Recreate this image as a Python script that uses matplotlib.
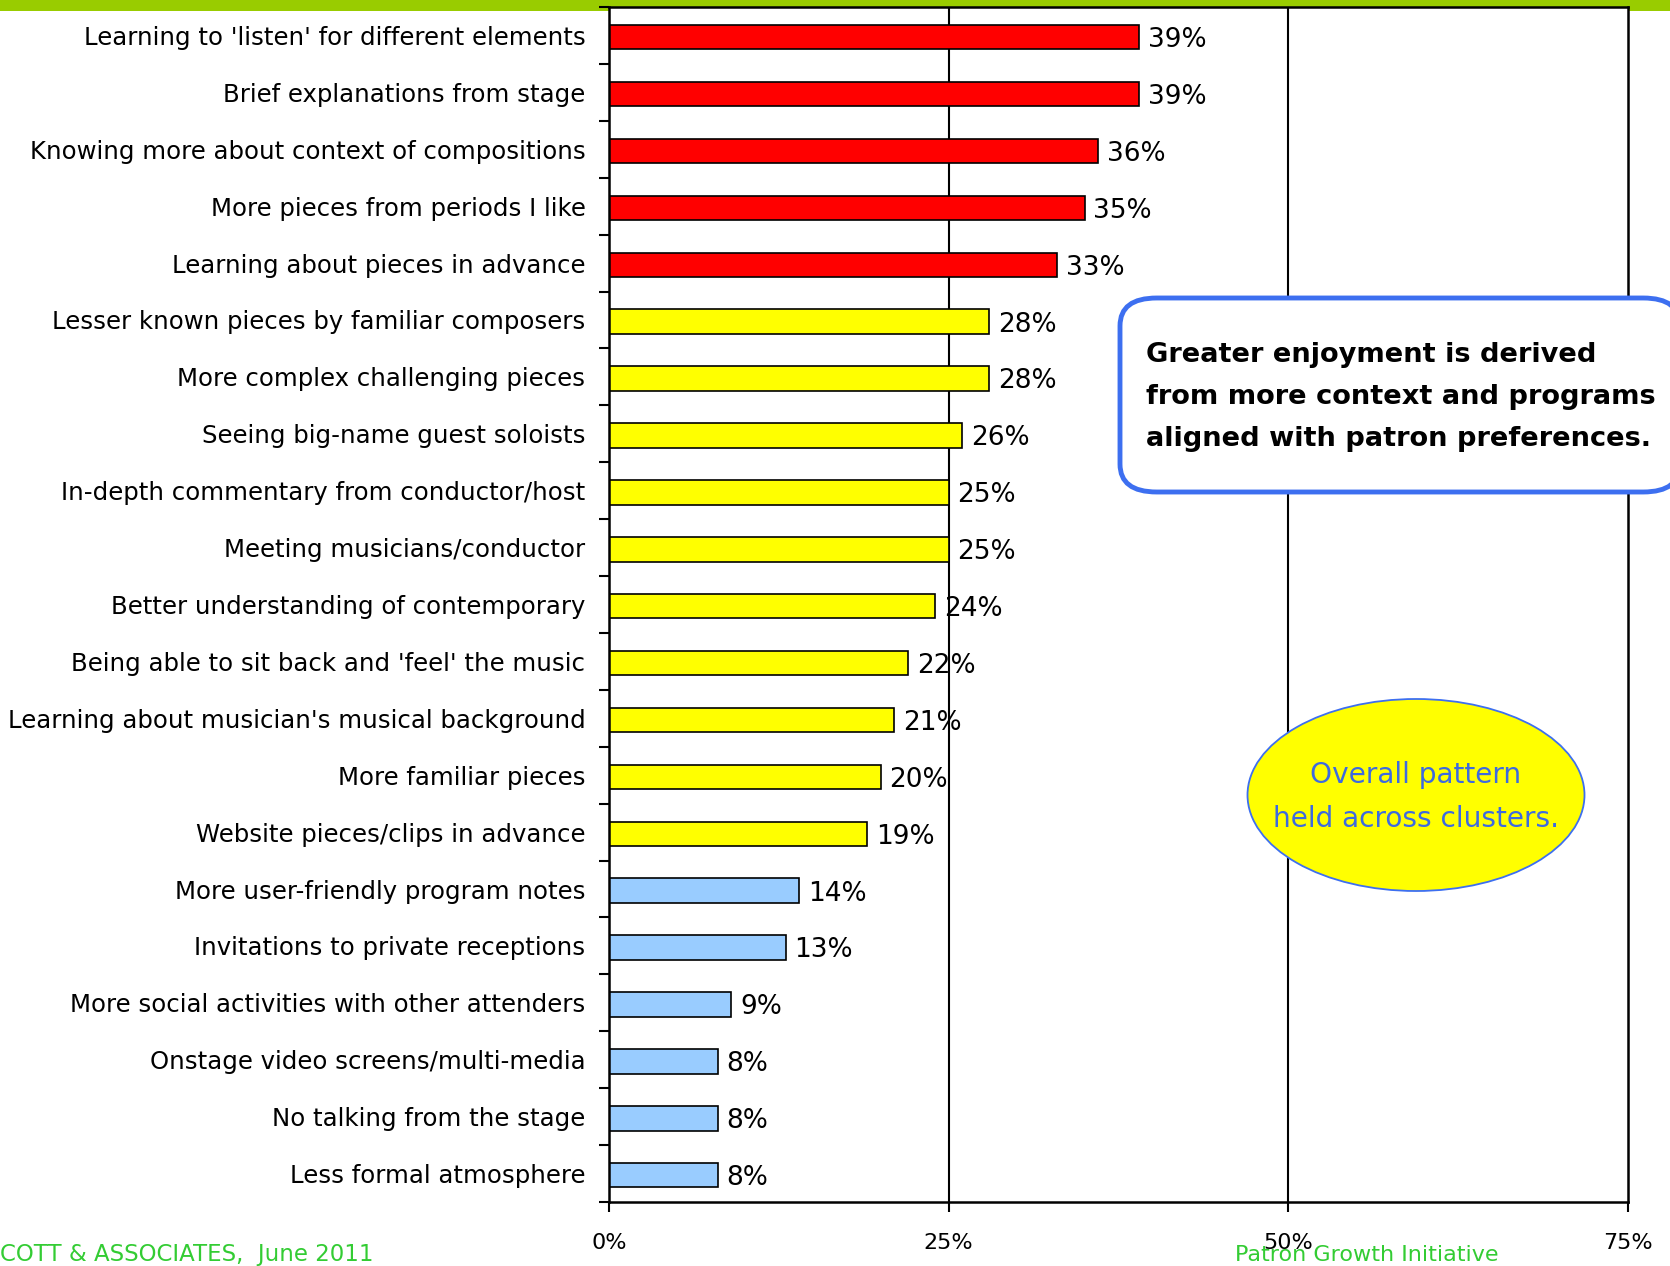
import numpy as np
import matplotlib.pyplot as plt
from matplotlib.patches import FancyBboxPatch, Ellipse, Rectangle
from matplotlib.ticker import FixedLocator, PercentFormatter

plt.rcParams['font.family'] = ['DejaVu Sans']

# Encuesta: que aumentaria el disfrute del concierto
categorias = [
    "Learning to 'listen' for different elements",
    "Brief explanations from stage",
    "Knowing more about context of compositions",
    "More pieces from periods I like",
    "Learning about pieces in advance",
    "Lesser known pieces by familiar composers",
    "More complex challenging pieces",
    "Seeing big-name guest soloists",
    "In-depth commentary from conductor/host",
    "Meeting musicians/conductor",
    "Better understanding of contemporary",
    "Being able to sit back and 'feel' the music",
    "Learning about musician's musical background",
    "More familiar pieces",
    "Website pieces/clips in advance",
    "More user-friendly program notes",
    "Invitations to private receptions",
    "More social activities with other attenders",
    "Onstage video screens/multi-media",
    "No talking from the stage",
    "Less formal atmosphere",
]
valores = [39, 39, 36, 35, 33, 28, 28, 26, 25, 25, 24, 22, 21, 20, 19, 14, 13, 9, 8, 8, 8]
grupo = ["alto"] * 5 + ["medio"] * 10 + ["bajo"] * 6
colores_grupo = {"alto": "#ff0000", "medio": "#ffff00", "bajo": "#99ccff"}

W, H = 1670, 1266
fig = plt.figure(figsize=(W / 100, H / 100), dpi=100)

# franja verde superior
fig.add_artist(Rectangle((0, 1 - 11 / H), 1, 11 / H, transform=fig.transFigure,
                         facecolor="#99cc00", edgecolor="none", zorder=0))

ax = fig.add_axes([609 / W, 1 - 1202 / H, (1628 - 609) / W, (1202 - 7) / H])
n = len(categorias)
y = np.arange(n)
cols = [colores_grupo[g] for g in grupo]
ax.barh(y + 0.03, valores, height=0.43, color=cols, edgecolor="black", linewidth=1.2, zorder=2)

for yi, v in zip(y, valores):
    ax.text(v + 0.65, yi + 0.08, f"{v}%", va="center", ha="left", fontsize=19, zorder=4)

ax.set_xlim(0, 75)
ax.set_ylim(n - 0.5, -0.5)
ax.set_xticks([0, 25, 50, 75])
ax.xaxis.set_major_formatter(PercentFormatter(decimals=0))
ax.set_yticks(y)
ax.set_yticklabels(categorias, fontsize=17.6)
ax.yaxis.set_minor_locator(FixedLocator(np.arange(-0.5, n, 1)))
ax.tick_params(axis="y", which="major", length=0, pad=17)
ax.tick_params(axis="y", which="minor", length=7, width=1.5, direction="out")
ax.tick_params(axis="x", length=7, width=1.5, direction="out", pad=15, labelsize=16)
for x in [25, 50]:
    ax.axvline(x, color="black", linewidth=1.5, zorder=1)
for s in ax.spines.values():
    s.set_linewidth(1.8)

# recuadro con la conclusion
caja = FancyBboxPatch((1120 / W, 1 - 492 / H), 560 / W, 194 / H,
                      boxstyle="round,pad=0,rounding_size=0.022",
                      transform=fig.transFigure, facecolor="white",
                      edgecolor="#3d6ff0", linewidth=3.5, zorder=5)
fig.add_artist(caja)
fig.text(1146 / W, 1 - 397 / H,
         "Greater enjoyment is derived\nfrom more context and programs\naligned with patron preferences.",
         fontsize=19.6, fontweight="bold", ha="left", va="center", linespacing=1.78, zorder=6)

# elipse amarilla
elipse = Ellipse((1416 / W, 1 - 795 / H), 337 / W, 192 / H, transform=fig.transFigure,
                 facecolor="#ffff00", edgecolor="#3d6ff0", linewidth=1.3, zorder=5)
fig.add_artist(elipse)
fig.text(1416 / W, 1 - 797 / H, "Overall pattern\nheld across clusters.",
         fontsize=20.2, color="#3d6ae0", ha="center", va="center", linespacing=1.72, zorder=6)

# pie de pagina
fig.text(0, 1 - 1255 / H, "COTT & ASSOCIATES,  June 2011", fontsize=16.5,
         color="#33cc33", ha="left", va="center")
fig.text(1235 / W, 1 - 1255 / H, "Patron Growth Initiative", fontsize=16,
         color="#33cc33", ha="left", va="center")

plt.savefig("out.png", dpi=100)
